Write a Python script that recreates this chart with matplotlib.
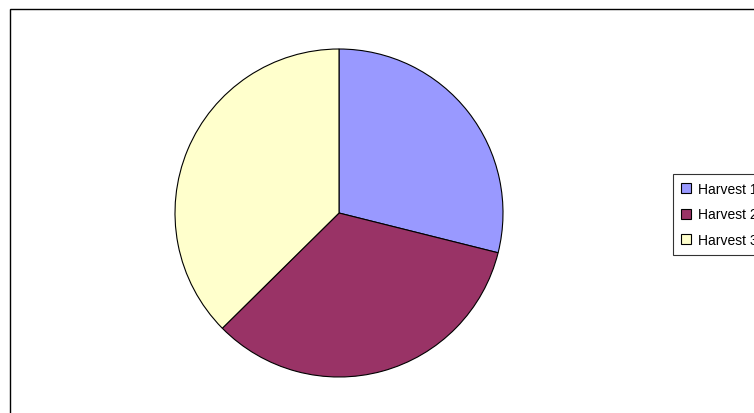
import matplotlib
matplotlib.use("Agg")
import matplotlib.pyplot as plt
from matplotlib.patches import Rectangle

labels = ["Harvest 1", "Harvest 2", "Harvest 3"]
values = [28.9, 33.7, 37.4]
colors = ["#9999FF", "#993366", "#FFFFCC"]

plt.rcParams['font.family'] = ['Liberation Sans', 'DejaVu Sans']

W, H = 754, 414
fig = plt.figure(figsize=(W / 100, H / 100), dpi=100)
fig.patches.append(Rectangle((10 / W, -0.1), 1.2, (H - 10) / H + 0.1,
                             transform=fig.transFigure, fill=False,
                             edgecolor='black', linewidth=1))

cx, cy, r = 339, 214, 164
ax = fig.add_axes([(cx - r) / W, (H - cy - r) / H, 2 * r / W, 2 * r / H])
wedges, _ = ax.pie(values, colors=colors, startangle=90, counterclock=False,
                   wedgeprops=dict(edgecolor='black', linewidth=0.8))
ax.set_aspect('auto')
ax.set_xlim(-1, 1)
ax.set_ylim(-1, 1)

leg = fig.legend(wedges, labels, loc='upper left',
                 bbox_to_anchor=(673 / W, (H - 175) / H),
                 fontsize=10, frameon=True, fancybox=False,
                 handlelength=0.75, handleheight=0.75, handletextpad=0.5,
                 borderpad=0.55, labelspacing=0.85, borderaxespad=0)
leg.get_frame().set_edgecolor('black')
leg.get_frame().set_linewidth(0.8)

fig.savefig("out.png", dpi=100)
